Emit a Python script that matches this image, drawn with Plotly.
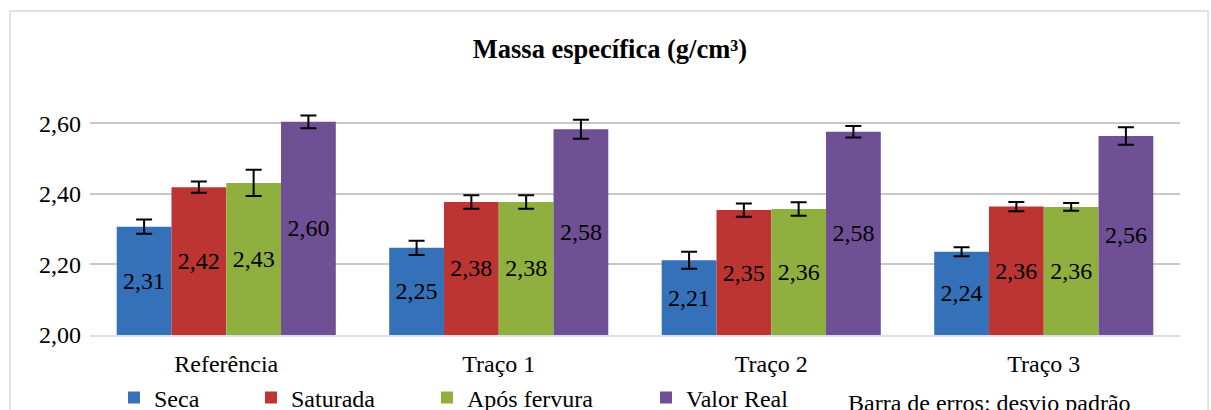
import plotly.graph_objects as go

categorias = ["Referência", "Traço 1", "Traço 2", "Traço 3"]
seca = [2.307, 2.247, 2.212, 2.236]
saturada = [2.419, 2.377, 2.354, 2.364]
apos_fervura = [2.431, 2.377, 2.357, 2.363]
valor_real = [2.604, 2.583, 2.576, 2.564]

seca_dp = [0.020, 0.020, 0.024, 0.013]
saturada_dp = [0.016, 0.019, 0.019, 0.013]
apos_dp = [0.037, 0.019, 0.019, 0.011]
valor_dp = [0.018, 0.027, 0.016, 0.025]

y_ticks = [2.0, 2.2, 2.4, 2.6]
eixo_min = 2.0

series = [
    ("Seca", seca, seca_dp, "#3571B9", 92),
    ("Saturada", saturada, saturada_dp, "#BC3532", 131),
    ("Após fervura", apos_fervura, apos_dp, "#8FB03F", 174),
    ("Valor Real", valor_real, valor_dp, "#6F5095", 110),
]

FONT = "Liberation Serif"
fig = go.Figure()
for nome, vals, dp, cor, lw in series:
    fig.add_trace(go.Bar(
        name=nome,
        x=categorias,
        y=[v - eixo_min for v in vals],
        base=eixo_min,
        text=[f"{v:.2f}".replace(".", ",") for v in vals],
        textposition="inside",
        insidetextanchor="middle",
        textangle=0,
        textfont=dict(family=FONT, size=24, color="black"),
        marker=dict(color=cor, line=dict(width=0)),
        error_y=dict(type="data", array=dp, visible=True, color="black",
                     thickness=2, width=8),
        legendwidth=lw,
    ))

fig.update_layout(
    template="none",
    width=1211, height=410,
    margin=dict(l=90, r=31, t=88, b=75, autoexpand=False),
    paper_bgcolor="white", plot_bgcolor="white",
    barmode="group", bargap=0.196, bargroupgap=0,
    separators=",.",
    font=dict(family=FONT, size=24, color="black"),
    title=dict(text="<b>Massa específica (g/cm³)</b>",
               font=dict(family=FONT, size=26.5, color="black"),
               x=0.477, xref="paper", xanchor="center",
               y=0.882, yref="container", yanchor="middle"),
    showlegend=True,
    legend=dict(orientation="h", x=0.022, xanchor="left",
                y=-0.164, yanchor="top",
                font=dict(family=FONT, size=24, color="black"),
                bgcolor="rgba(0,0,0,0)", tracegroupgap=0),
    xaxis=dict(showline=True, linecolor="#d6e1f0", linewidth=2,
               ticks="", showgrid=False, ticklabelstandoff=6,
               automargin=False,
               tickfont=dict(family=FONT, size=24, color="black")),
    yaxis=dict(range=[2.0, 2.7], tickvals=y_ticks,
               ticktext=[f"{t:.2f}".replace(".", ",") for t in y_ticks],
               showgrid=True, gridcolor="#c8c8c8", gridwidth=1.5,
               zeroline=False, showline=False, ticks="",
               ticklabelstandoff=8, automargin=False,
               tickfont=dict(family=FONT, size=24, color="black")),
    shapes=[dict(type="rect", xref="paper", yref="paper",
                 x0=-0.0734, x1=1.0257, y0=-0.4, y1=1.3117,
                 line=dict(color="#d9d9d9", width=1.5),
                 fillcolor="rgba(0,0,0,0)", layer="below")],
    annotations=[dict(text="Barra de erros: desvio padrão",
                      xref="paper", yref="paper", x=0.825, y=-0.275,
                      xanchor="center", yanchor="middle", showarrow=False,
                      font=dict(family=FONT, size=24, color="black"))],
)

fig.write_html("out.html",
               config={"displayModeBar": False},
               post_script="document.body.style.margin='0';document.body.style.overflow='hidden';")
